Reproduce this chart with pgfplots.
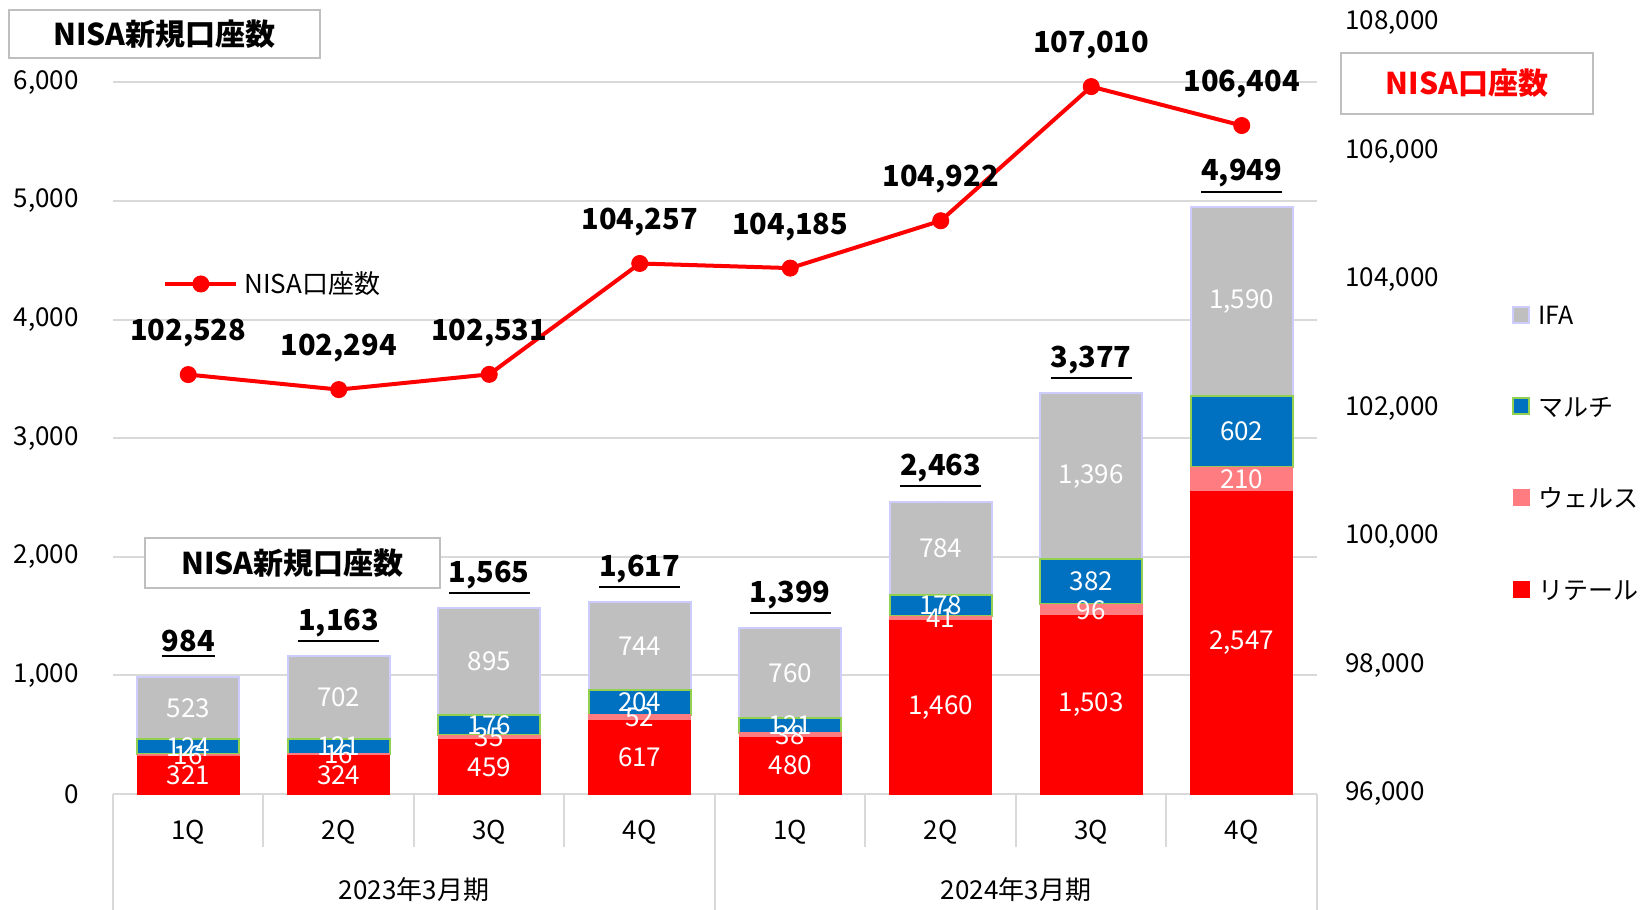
\documentclass[border=0pt]{standalone}
\usepackage{fontspec}
\setmainfont{Noto Sans CJK JP}
\usepackage{pgfplots}
\usepackage{pgfplotstable}
\pgfplotsset{compat=1.18}
\definecolor{gridgray}{HTML}{D9D9D9}
\definecolor{boxgray}{HTML}{BFBFBF}
\definecolor{retail}{HTML}{FF0000}
\definecolor{wealth}{HTML}{FF7C80}
\definecolor{multi}{HTML}{0070C0}
\definecolor{multiedge}{HTML}{92D050}
\definecolor{ifa}{HTML}{BFBFBF}
\definecolor{ifaedge}{HTML}{CCCCFF}
\newcommand\fs[1]{\fontsize{#1}{#1}\selectfont}
\newcommand\ul[1]{\vtop{\hbox{#1}\kern1.5pt\hrule height 1pt}}

\pgfplotstableread{
x r w m i t
0 321 16 124 523 984
1 324 16 121 702 1163
2 459 35 176 895 1565
3 617 52 204 744 1617
4 480 38 121 760 1399
5 1460 41 178 784 2463
6 1503 96 382 1396 3377
7 2547 210 602 1590 4949
}\bartab
\pgfplotstablecreatecol[create col/expr={\thisrow{r}/2}]{rm}{\bartab}
\pgfplotstablecreatecol[create col/expr={\thisrow{r}+\thisrow{w}/2}]{wm}{\bartab}
\pgfplotstablecreatecol[create col/expr={\thisrow{r}+\thisrow{w}+\thisrow{m}/2}]{mm}{\bartab}
\pgfplotstablecreatecol[create col/expr={\thisrow{r}+\thisrow{w}+\thisrow{m}+\thisrow{i}/2}]{im}{\bartab}

\pgfplotstableread{
x n
0 102528
1 102294
2 102531
3 104257
4 104185
5 104922
6 107010
7 106404
}\linetab

\tikzset{segl/.style={font=\fs{13}, text=white, anchor=center, inner sep=0pt}}
\pgfplotsset{
  base/.style={at={(0pt,0pt)}, anchor=south west, scale only axis,
    width=602pt, height=385.5pt, xmin=-0.5, xmax=7.5, clip=false},
  sqlegend/.style={legend image code/.code={\draw[##1] (0pt,-4pt) rectangle (8pt,4pt);}},
  linelegend/.style={legend image code/.code={\draw[mark repeat=2,mark phase=2,##1] plot coordinates {(0pt,0pt) (17.75pt,0pt) (35.5pt,0pt)};}},
  /pgf/number format/.cd, fixed, precision=0, 1000 sep={,}, assume math mode=true
}

\begin{document}
\begin{tikzpicture}
\useasboundingbox (-56.5pt,-58pt) rectangle (768.5pt,397pt);

% bars
\begin{axis}[base,
  ybar stacked, bar width=51pt,
  ymin=0, ymax=6500, ytick={0,1000,...,6000}, scaled y ticks=false,
  xtick={0,...,7}, xticklabels={1Q,2Q,3Q,4Q,1Q,2Q,3Q,4Q},
  axis x line*=bottom, axis y line*=left,
  y axis line style={draw=none},
  x axis line style={draw=gridgray, line width=1pt},
  major tick length=0pt,
  ymajorgrids, grid style={draw=gridgray, line width=1pt},
  yticklabel style={font=\fs{13}, anchor=east, inner sep=0pt, xshift=-17pt},
  xticklabel style={font=\fs{13}, anchor=base, inner sep=0pt, yshift=-23pt},
  reverse legend,
  legend style={at={(axis description cs:1.162,0.4437)}, anchor=west,
    draw=none, fill=none, inner sep=0pt, row sep=35.8pt, column sep=4pt,
    font=\fs{12.5}, nodes={inner sep=0pt, text height=10pt, text depth=0pt},
    cells={anchor=west}},
]
\addplot[fill=retail, draw=retail, sqlegend] table[x=x,y=r]{\bartab};
\addplot[fill=wealth, draw=wealth, sqlegend] table[x=x,y=w]{\bartab};
\addplot[fill=multi, draw=multiedge, line width=1pt, sqlegend] table[x=x,y=m]{\bartab};
\addplot[fill=ifa, draw=ifaedge, line width=1pt, sqlegend] table[x=x,y=i]{\bartab};
\legend{リテール,ウェルス,マルチ,IFA}
\pgfplotsinvokeforeach{0.5,1.5,2.5,4.5,5.5,6.5}{\draw[gridgray, line width=1pt] (axis cs:#1,0) -- ++(0pt,-26.5pt);}
\pgfplotsinvokeforeach{-0.5,3.5,7.5}{\draw[gridgray, line width=1pt] (axis cs:#1,0) -- ++(0pt,-58pt);}
\node[font=\fs{13}, anchor=base, inner sep=0pt, yshift=-52.5pt] at (axis cs:1.5,0) {2023年3月期};
\node[font=\fs{13}, anchor=base, inner sep=0pt, yshift=-52.5pt] at (axis cs:5.5,0) {2024年3月期};
\end{axis}

% bar labels
\begin{axis}[base, hide axis, ymin=0, ymax=6500,
  every axis plot/.append style={only marks, mark=*, mark size=0pt, mark options={draw=none, fill=none}}]
\addplot[nodes near coords, point meta=explicit, nodes near coords style={segl}] table[x=x,y=rm,meta=r]{\bartab};
\addplot[nodes near coords, point meta=explicit, nodes near coords style={segl}] table[x=x,y=wm,meta=w]{\bartab};
\addplot[nodes near coords, point meta=explicit, nodes near coords style={segl}] table[x=x,y=mm,meta=m]{\bartab};
\addplot[nodes near coords, point meta=explicit, nodes near coords style={segl}] table[x=x,y=im,meta=i]{\bartab};
\addplot[nodes near coords={\ul{\pgfmathprintnumber{\pgfplotspointmeta}}},
  nodes near coords style={font=\fs{14.5}\bfseries, text=black, anchor=base, yshift=13pt, inner sep=0pt}]
  table[x=x,y=t]{\bartab};
\end{axis}

% line
\begin{axis}[base,
  ymin=96000, ymax=108000, ytick={96000,98000,...,108000}, scaled y ticks=false,
  axis x line=none, axis y line*=right, y axis line style={draw=none},
  major tick length=0pt,
  yticklabel style={font=\fs{13}, anchor=west, inner sep=0pt, xshift=14pt},
  legend style={at={(axis description cs:0.0415,0.6615)}, anchor=west,
    draw=none, fill=none, inner sep=0pt, column sep=3pt,
    font=\fs{13}, nodes={inner sep=0pt, text height=10pt, text depth=0pt},
    cells={anchor=west}},
]
\addplot[draw=red, line width=2pt, mark=*, mark size=4pt, mark options={fill=red, draw=red, line width=0.5pt},
  linelegend,
  nodes near coords,
  nodes near coords style={font=\fs{14.5}\bfseries, text=black, anchor=base, yshift=17pt, inner sep=0pt}]
  table[x=x,y=n]{\linetab};
\legend{NISA口座数}
\end{axis}

\node[draw=boxgray, line width=1pt, minimum width=155.5pt, minimum height=24pt, inner sep=0pt, font=\fs{15}\bfseries] at (25.75pt,380pt) {NISA新規口座数};
\node[draw=boxgray, line width=1pt, minimum width=147.5pt, minimum height=25pt, inner sep=0pt, fill=white, font=\fs{15}\bfseries] at (89.75pt,115.5pt) {NISA新規口座数};
\node[draw=boxgray, line width=1pt, minimum width=126pt, minimum height=30.5pt, inner sep=0pt, font=\fs{15}\bfseries, text=red] at (677pt,355.25pt) {NISA口座数};
\end{tikzpicture}
\end{document}
